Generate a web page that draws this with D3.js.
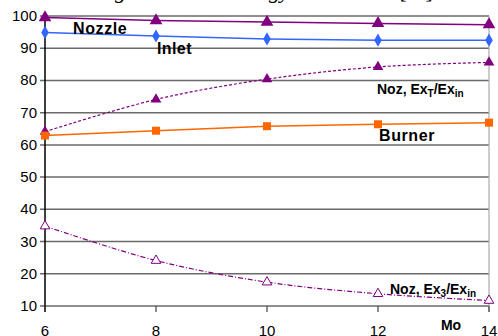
<!DOCTYPE html>
<html><head><meta charset="utf-8">
<script src="https://cdn.jsdelivr.net/npm/d3@7/dist/d3.min.js"></script>
<style>body{margin:0;background:#fff}svg{display:block}</style>
</head><body>
<svg id="c" width="498" height="336"></svg>
<script>
const machNumbers = [6, 8, 10, 12, 14];
const nozzle = [99.5, 98.6, 98.1, 97.7, 97.3];
const inlet = [94.9, 93.8, 92.9, 92.5, 92.5];
const nozExT = [64.1, 74.1, 80.4, 84.2, 85.6];
const burner = [62.9, 64.4, 65.8, 66.4, 66.9];
const nozEx3 = [34.8, 24.1, 17.4, 13.8, 11.7];
const yTicks = [10, 20, 30, 40, 50, 60, 70, 80, 90, 100];
const xTicks = [6, 8, 10, 12, 14];
const title = "Figure 6. Total exergy destruction [%].";

const svg = d3.select("#c");
const x = d3.scaleLinear().domain([6, 14]).range([45, 489]);
const y = d3.scaleLinear().domain([10, 100]).range([306, 16]);

// title (cut off at top)
svg.append("text").attr("x", 268).attr("y", -2).attr("text-anchor", "middle")
  .attr("font-family", "Liberation Serif").attr("font-style", "italic").attr("font-size", 22)
  .attr("fill", "#000").text(title);

// grid
svg.append("g").selectAll("line").data(yTicks).join("line")
  .attr("x1", 40).attr("x2", 489).attr("y1", d => y(d)).attr("y2", d => y(d))
  .attr("stroke", "#6a6a6a").attr("stroke-width", 1.5);
// right border
svg.append("line").attr("x1", 489).attr("x2", 489).attr("y1", y(100)).attr("y2", 312)
  .attr("stroke", "#aaa").attr("stroke-width", 1.2);
// left axis
svg.append("line").attr("x1", 45).attr("x2", 45).attr("y1", y(100)).attr("y2", 312)
  .attr("stroke", "#000").attr("stroke-width", 1.5);
// x ticks
svg.append("g").selectAll("line").data(xTicks).join("line")
  .attr("x1", d => x(d)).attr("x2", d => x(d)).attr("y1", 306).attr("y2", 312)
  .attr("stroke", "#444").attr("stroke-width", 1.2);

// y tick labels
svg.append("g").selectAll("text").data(yTicks).join("text")
  .attr("x", 37).attr("y", d => y(d) + 5).attr("text-anchor", "end")
  .attr("font-family", "Liberation Sans").attr("font-size", 15).attr("fill", "#000")
  .text(d => d);
// x tick labels
svg.append("g").selectAll("text").data(xTicks).join("text")
  .attr("x", d => x(d)).attr("y", 336).attr("text-anchor", "middle")
  .attr("font-family", "Liberation Sans").attr("font-size", 15).attr("fill", "#000")
  .text(d => d);
svg.append("text").attr("x", 451).attr("y", 330).attr("text-anchor", "middle")
  .attr("font-family", "Liberation Sans").attr("font-weight", "bold").attr("font-size", 14)
  .text("Mo");

function series(vals, color, opts) {
  const pts = machNumbers.map((m, i) => [x(m), y(vals[i])]);
  const line = d3.line().curve(opts.smooth ? d3.curveCatmullRom.alpha(0.5) : d3.curveLinear);
  svg.append("path").attr("d", line(pts)).attr("fill", "none").attr("stroke", color)
    .attr("stroke-width", opts.width || 1.5).attr("stroke-dasharray", opts.dash || null);
  const sym = d3.symbol().type(opts.symbol).size(opts.size);
  svg.append("g").selectAll("path").data(pts).join("path")
    .attr("transform", d => `translate(${d[0]},${d[1]})`)
    .attr("d", sym)
    .attr("fill", opts.open ? "#fff" : color)
    .attr("stroke", color).attr("stroke-width", opts.open ? 1 : 0);
}

series(nozExT, "#800080", {smooth: true, dash: "3,2", width: 1.2, symbol: d3.symbolTriangle, size: 50});
series(nozEx3, "#800080", {smooth: true, dash: "5,2,1,2", width: 1.2, symbol: d3.symbolTriangle, size: 40, open: true});
series(burner, "#ff6600", {symbol: d3.symbolSquare, size: 64});
series(inlet, "#3366ff", {symbol: d3.symbolDiamond, size: 50});
series(nozzle, "#800080", {symbol: d3.symbolTriangle, size: 70});

const labelFont = (s, px, py, fs) => s.attr("x", px).attr("y", py)
  .attr("font-family", "Liberation Sans").attr("font-weight", "bold").attr("font-size", fs).attr("fill", "#000");
labelFont(svg.append("text"), 73, 34, 16).attr("letter-spacing", 0.6).text("Nozzle");
labelFont(svg.append("text"), 157, 54, 16).attr("letter-spacing", 0.4).text("Inlet");
labelFont(svg.append("text"), 379, 141, 16).attr("letter-spacing", 0.6).text("Burner");
const t1 = labelFont(svg.append("text"), 377, 94, 14);
t1.append("tspan").text("Noz, Ex");
t1.append("tspan").attr("font-size", 10).attr("dy", 3).text("T");
t1.append("tspan").attr("dy", -3).text("/Ex");
t1.append("tspan").attr("font-size", 10).attr("dy", 3).text("in");
const t2 = labelFont(svg.append("text"), 390, 294, 14);
t2.append("tspan").text("Noz, Ex");
t2.append("tspan").attr("font-size", 10).attr("dy", 3).text("3");
t2.append("tspan").attr("dy", -3).text("/Ex");
t2.append("tspan").attr("font-size", 10).attr("dy", 3).text("in");
</script>
</body></html>
